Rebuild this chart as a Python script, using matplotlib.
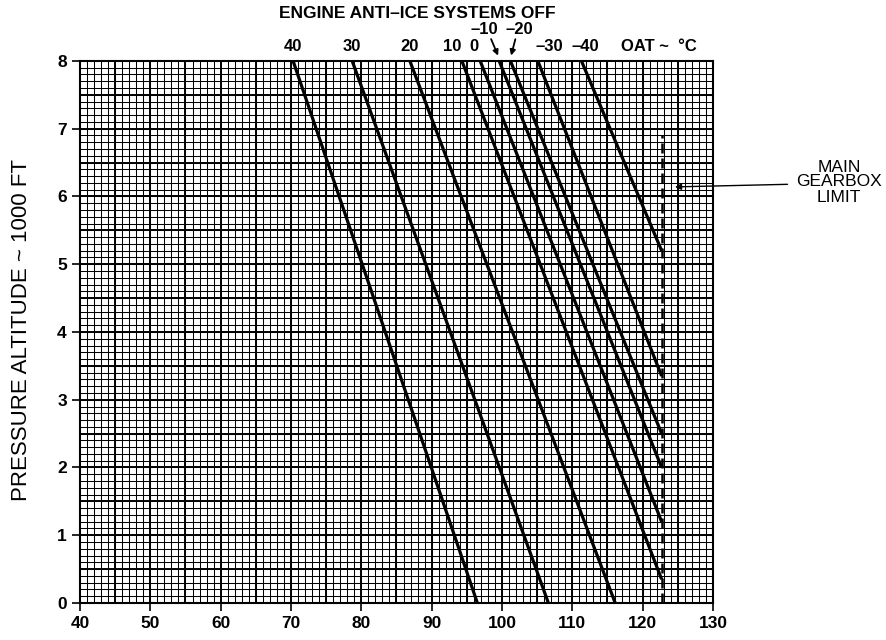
import numpy as np
import matplotlib.pyplot as plt
from matplotlib.ticker import MultipleLocator

plt.rcParams['font.family'] = ['Liberation Sans', 'DejaVu Sans']

# OAT curves: altitude 8000 ft end and lower end (sea level or gearbox limit)
oat = [40, 30, 20, 10, 0, -10, -20, -30, -40]
x_top = [70.3, 78.7, 86.9, 94.3, 96.9, 99.6, 101.2, 105.1, 111.3]
x_low = [96.5, 106.6, 116.1, 122.7, 122.7, 122.7, 122.7, 122.7, 122.7]
alt_low = [0.0, 0.0, 0.0, 0.35, 1.2, 2.0, 2.5, 3.35, 5.2]

gearbox_limit = 122.7
limit_top = 6.9

# where the temperature labels sit along the top edge
label_x = [70.3, 78.7, 86.9, 92.9, 96.0, 97.5, 102.4, 106.8, 111.8]
label_y = [8.21, 8.21, 8.21, 8.21, 8.21, 8.47, 8.47, 8.21, 8.21]

fig = plt.figure(figsize=(8.86, 6.4), dpi=100)
ax = fig.add_axes([0.0903, 0.0578, 0.7144, 0.847])
ax.set_xlim(40, 130)
ax.set_ylim(0, 8)

# chart paper grid
ax.vlines(np.arange(41, 130, 1), 0, 8, color='k', lw=0.75, zorder=1)
ax.hlines(np.arange(0.1, 8, 0.1), 40, 130, color='k', lw=0.75, zorder=1)
ax.vlines(np.arange(45, 130, 5), 0, 8, color='k', lw=1.4, zorder=1)
ax.hlines(np.arange(0.5, 8, 0.5), 40, 130, color='k', lw=1.4, zorder=1)

for i in range(len(oat)):
    ax.plot([x_low[i], x_top[i]], [alt_low[i], 8], color='k', lw=2.3,
            solid_capstyle='butt', zorder=3)

ax.plot([gearbox_limit, gearbox_limit], [0, limit_top], color='k', lw=1.8,
        ls=(0, (4, 2)), zorder=3)

for i in range(len(oat)):
    txt = str(oat[i]).replace('-', '\u2013')
    ax.text(label_x[i], label_y[i], txt, ha='center', va='center',
            fontsize=12, fontweight='bold', clip_on=False)
ax.text(122.3, 8.21, 'OAT ~  \u00b0C', ha='center', va='center',
        fontsize=12, fontweight='bold', clip_on=False)

ax.annotate('', xy=(99.6, 8.04), xytext=(98.3, 8.36),
            arrowprops=dict(arrowstyle='-|>', color='k', lw=1.3, mutation_scale=8),
            annotation_clip=False)
ax.annotate('', xy=(101.2, 8.04), xytext=(102.0, 8.36),
            arrowprops=dict(arrowstyle='-|>', color='k', lw=1.3, mutation_scale=8),
            annotation_clip=False)

ax.annotate('', xy=(124.2, 6.14), xytext=(141.0, 6.18),
            arrowprops=dict(arrowstyle='-|>', color='k', lw=1.0, mutation_scale=9),
            annotation_clip=False)
fig.text(839 / 886, 1 - 182 / 640, 'MAIN\nGEARBOX\nLIMIT', ha='center',
         va='center', fontsize=12.5, linespacing=1.0)

fig.text(417 / 886, 1 - 13 / 640, 'ENGINE ANTI\u2013ICE SYSTEMS OFF',
         ha='center', va='center', fontsize=12.5, fontweight='bold')

ax.set_xticks(range(40, 131, 10))
ax.set_yticks(range(0, 9))
ax.tick_params(direction='out', length=6, width=1.2, labelsize=12.5)
for lbl in ax.get_xticklabels() + ax.get_yticklabels():
    lbl.set_fontweight('bold')
for s in ax.spines.values():
    s.set_linewidth(1.5)

fig.text(22 / 886, 1 - 330 / 640, 'PRESSURE ALTITUDE ~ 1000 FT', rotation=90,
         ha='center', va='center', fontsize=16)

fig.savefig('out.png', dpi=100)
